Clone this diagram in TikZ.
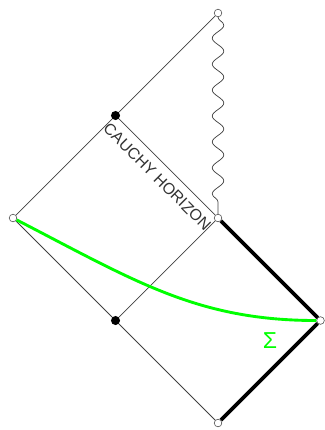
\documentclass[tikz,border=0pt]{standalone}
\usepackage{fontspec}
\setsansfont{Liberation Sans}
\usetikzlibrary{decorations.pathmorphing}
\tikzset{open/.style={circle,draw=black!70,fill=white,inner sep=0pt,minimum size=5.3pt},
 blob/.style={circle,fill=black,inner sep=0pt,minimum size=6.3pt},
 edge/.style={draw=black!75,line width=0.5pt},
 bdry/.style={draw=black,line width=2.6pt},
 sing/.style={draw=black!75,line width=0.5pt,decorate,decoration={snake,amplitude=4pt,segment length=18pt}},
 slice/.style={draw=green,line width=2pt},
 lbl/.style={font=\sffamily\fontsize{11}{13}\selectfont,text=black!80,inner sep=3.5pt}}

\begin{document}
\begin{tikzpicture}[x=2.5cm,y=2.5cm]
\useasboundingbox (-0.127,-0.068) rectangle (3.034,4.127);
\node[open] (top) at (2,4) {};
\node[blob] (ch) at (1,3) {};
\node[open] (left) at (0,2) {};
\node[open] (mid) at (2,2) {};
\node[open] (right) at (3,1) {};
\node[blob] (low) at (1,1) {};
\node[open] (bot) at (2,0) {};
\draw[edge] (top)--(ch) (ch)--(left) (left)--(low) (low)--(bot) (low)--(mid);
\draw[edge] (ch)--node[sloped,below=2pt,lbl]{CAUCHY HORIZON}(mid);
\draw[sing] (top)--(mid);
\draw[bdry] (mid)--(right)--(bot);
\draw[slice] (left) .. controls (1.2,1.38) and (1.8,1) .. (right);
\node[font=\sffamily\fontsize{16}{18}\selectfont,text=green] (sig) at (2.507,0.807) {Σ};
\end{tikzpicture}
\end{document}
